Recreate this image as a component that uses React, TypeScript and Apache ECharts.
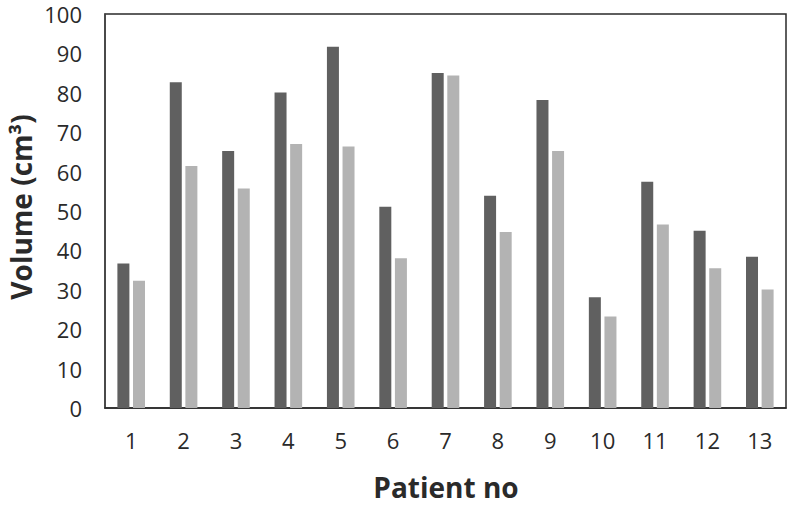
import React, { useEffect, useRef } from "react";
import * as echarts from "echarts";

const categories = ["1", "2", "3", "4", "5", "6", "7", "8", "9", "10", "11", "12", "13"];
const seriesA = [36.7, 82.7, 65.2, 80.1, 91.7, 51.1, 85.0, 53.9, 78.2, 28.1, 57.4, 45.0, 38.4];
const seriesB = [32.3, 61.4, 55.7, 67.0, 66.4, 38.0, 84.4, 44.7, 65.2, 23.2, 46.6, 35.5, 30.1];
const yTicks = { min: 0, max: 100, interval: 10 };

const FONT = "'Open Sans', 'Noto Sans', sans-serif";

export default function App() {
  const ref = useRef<HTMLDivElement>(null);
  useEffect(() => {
    if (!ref.current) return;
    const chart = echarts.init(ref.current, undefined, { renderer: "svg" });
    chart.setOption({
      animation: false,
      backgroundColor: "#ffffff",
      grid: {
        left: 105,
        right: 2,
        top: 14,
        bottom: 98,
        show: true,
        borderColor: "#2a2a2a",
        borderWidth: 1.5,
        containLabel: false,
      },
      xAxis: {
        type: "category",
        data: categories,
        axisLine: { show: true, lineStyle: { color: "#2a2a2a", width: 1.5 } },
        axisTick: { show: false },
        axisLabel: { color: "#2a2a2a", fontSize: 22, fontFamily: FONT, margin: 21 },
      },
      yAxis: {
        type: "value",
        min: yTicks.min,
        max: yTicks.max,
        interval: yTicks.interval,
        axisLine: { show: true, lineStyle: { color: "#444444", width: 1.5 } },
        axisTick: { show: false },
        splitLine: { show: false },
        axisLabel: { color: "#2a2a2a", fontSize: 22, fontFamily: FONT, margin: 23 },
      },
      series: [
        {
          type: "bar",
          data: seriesA,
          barWidth: 12,
          barGap: "30%",
          itemStyle: { color: "#606060" },
        },
        {
          type: "bar",
          data: seriesB,
          barWidth: 12,
          barGap: "30%",
          itemStyle: { color: "#b3b3b3" },
        },
      ],
      graphic: [
        {
          type: "text",
          x: 21,
          y: 207,
          rotation: Math.PI / 2,
          style: {
            text: "Volume (cm³)",
            fontSize: 28,
            fontWeight: "bold",
            fontFamily: FONT,
            fill: "#2a2a2a",
            textAlign: "center",
            textVerticalAlign: "middle",
          },
        },
        {
          type: "text",
          x: 446,
          y: 487,
          style: {
            text: "Patient no",
            fontSize: 28,
            fontWeight: "bold",
            fontFamily: FONT,
            fill: "#2a2a2a",
            textAlign: "center",
            textVerticalAlign: "middle",
          },
        },
      ],
    });
    return () => chart.dispose();
  }, []);
  return <div ref={ref} style={{ width: 788, height: 506, position: "absolute", left: 0, top: 0 }} />;
}
